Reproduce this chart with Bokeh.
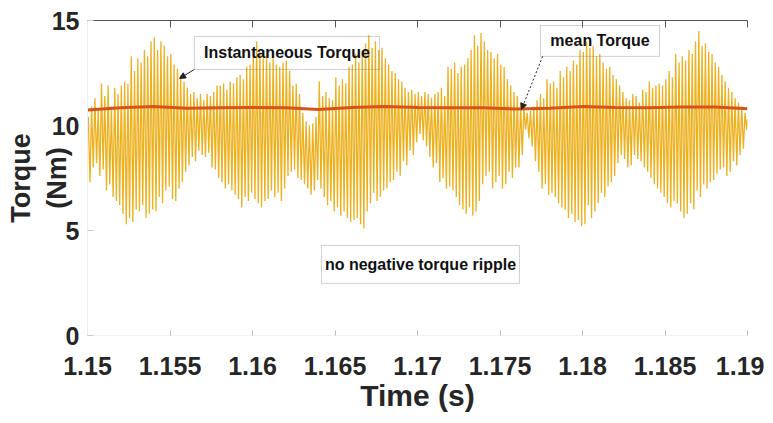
import numpy as np
from bokeh.plotting import figure
from bokeh.models import (Range1d, LinearAxis, FixedTicker, BoxAnnotation, Label,
                          Arrow, NormalHead)
from bokeh.embed import file_html
from bokeh.resources import INLINE

# ---------------- data ----------------
t_start = 1.15
t_end = 1.19
cycle_period = 0.0002          # one ripple cycle (peak + trough)
start_value = 10.2
end_value = 10.3

# instantaneous torque: per-cycle maxima (Nm)
peaks = [
    10.4, 10.9, 11.3, 10.8, 12.0, 11.4, 11.9, 10.9, 11.8, 11.5,
    11.9, 12.1, 12.0, 13.3, 12.6, 13.2, 13.0, 13.6, 13.3, 14.0,
    14.2, 13.6, 14.0, 13.8, 13.3, 13.4, 12.9, 12.7, 12.4, 12.1,
    11.8, 11.5, 11.6, 11.3, 11.5, 11.2, 11.5, 11.4, 11.6, 11.9,
    11.9, 12.0, 11.7, 12.1, 12.0, 12.3, 12.4, 12.2, 12.8, 12.9,
    13.6, 14.0, 13.5, 13.2, 13.4, 13.0, 13.2, 12.9, 12.8, 13.0,
    13.1, 12.6, 11.9, 12.0, 11.5, 10.6, 10.2, 10.0, 10.1, 10.4,
    12.1, 11.4, 11.6, 11.3, 11.2, 12.3, 11.9, 12.2, 12.0, 12.8,
    12.9, 13.4, 13.0, 13.6, 13.9, 14.3, 13.7, 14.0, 13.6, 13.7,
    13.2, 12.9, 12.6, 12.5, 12.2, 12.1, 11.8, 11.6, 11.7, 11.5,
    11.6, 11.4, 11.6, 11.5, 11.3, 11.5, 11.6, 11.8, 11.4, 12.8,
    12.7, 13.0, 12.5, 12.8, 12.9, 13.2, 13.6, 14.3, 13.8, 14.4,
    14.0, 13.6, 13.5, 13.2, 13.4, 12.9, 12.8, 12.2, 11.9, 11.6,
    11.4, 11.1, 10.9, 10.6, 10.7, 10.9, 11.2, 11.5, 11.3, 12.2,
    12.0, 12.1, 11.8, 12.6, 12.3, 12.8, 12.6, 13.1, 12.9, 13.6,
    13.5, 14.0, 13.7, 13.8, 13.3, 13.4, 13.0, 12.7, 12.8, 12.4,
    12.2, 11.9, 11.6, 11.3, 11.2, 11.5, 11.4, 11.1, 11.7, 11.6,
    12.1, 11.8, 11.9, 12.0, 11.9, 12.2, 12.6, 12.3, 13.4, 13.0,
    13.3, 13.1, 13.6, 13.4, 14.0, 14.5, 13.8, 13.9, 13.5, 13.4,
    13.0, 12.8, 12.4, 12.1, 11.8, 11.6, 11.3, 11.1, 10.9, 10.6,
]

# instantaneous torque: per-cycle minima (Nm)
troughs = [
    7.3, 8.0, 8.2, 7.6, 7.9, 6.9, 7.2, 6.6, 6.4, 6.2,
    5.8, 5.3, 5.6, 5.4, 6.0, 5.9, 6.2, 5.6, 5.8, 6.0,
    5.9, 6.6, 6.3, 6.9, 7.1, 6.5, 6.4, 7.0, 7.3, 7.8,
    8.1, 8.5, 8.3, 8.8, 8.6, 8.5, 8.7, 8.0, 7.9, 7.5,
    7.3, 7.0, 7.2, 6.9, 6.7, 6.5, 6.1, 6.6, 6.4, 6.8,
    6.5, 6.3, 6.1, 6.4, 6.5, 6.9, 6.6, 6.8, 6.4, 7.0,
    7.6, 7.8, 7.9, 7.5, 7.4, 7.2, 7.0, 6.7, 6.9, 7.4,
    7.0, 6.6, 6.2, 6.4, 5.9, 6.1, 5.7, 5.9, 5.6, 5.4,
    5.5, 5.6, 5.3, 5.1, 5.9, 6.3, 6.8, 6.4, 6.6, 6.9,
    7.0, 7.3, 7.4, 7.8, 7.6, 8.3, 8.1, 8.8, 8.6, 9.2,
    9.6, 9.3, 9.0, 8.5, 8.0, 8.2, 7.3, 7.5, 7.0, 7.1,
    6.9, 6.6, 6.2, 6.0, 5.8, 6.1, 5.7, 5.9, 6.4, 7.2,
    7.6, 7.8, 7.0, 7.3, 7.6, 7.0, 7.2, 7.8, 7.5, 8.0,
    8.0, 8.6, 9.8, 9.4, 9.0, 8.3, 7.8, 7.0, 7.2, 6.7,
    6.8, 6.6, 6.3, 6.1, 6.0, 5.6, 5.8, 5.4, 5.5, 5.2,
    5.3, 6.2, 5.6, 5.9, 6.3, 6.8, 6.6, 7.1, 7.3, 7.6,
    8.2, 8.6, 8.4, 8.0, 8.1, 8.6, 8.4, 8.3, 8.0, 7.8,
    7.5, 7.2, 7.0, 6.8, 6.6, 6.3, 6.1, 6.4, 6.3, 5.9,
    5.6, 5.8, 6.3, 6.0, 6.9, 6.6, 7.2, 7.0, 7.3, 7.4,
    7.7, 7.9, 8.0, 7.6, 7.8, 8.3, 8.1, 8.6, 8.9, 9.8,
]

# mean torque
mean_time = [1.150, 1.152, 1.154, 1.156, 1.158, 1.160, 1.162, 1.164, 1.166, 1.168,
             1.170, 1.172, 1.174, 1.176, 1.178, 1.180, 1.182, 1.184, 1.186, 1.188, 1.190]
mean_torque = [10.74, 10.84, 10.90, 10.82, 10.84, 10.86, 10.84, 10.76, 10.86, 10.90,
               10.86, 10.84, 10.84, 10.78, 10.82, 10.90, 10.86, 10.84, 10.88, 10.88, 10.80]

x_ticks = [1.15, 1.155, 1.16, 1.165, 1.17, 1.175, 1.18, 1.185, 1.19]
x_tick_labels = ["1.15", "1.155", "1.16", "1.165", "1.17", "1.175", "1.18", "1.185", "1.19"]
y_ticks = [0, 5, 10, 15]
y_tick_labels = ["0", "5", "10", "15"]

# ---------------- build the waveform ----------------
inst_t = [t_start]
inst_v = [start_value]
for i, (hi, lo) in enumerate(zip(peaks, troughs)):
    inst_t.append(t_start + (i + 0.25) * cycle_period)
    inst_v.append(hi)
    inst_t.append(t_start + (i + 0.75) * cycle_period)
    inst_v.append(lo)
inst_t.append(t_end)
inst_v.append(end_value)

# ---------------- figure ----------------
FONT = "Liberation Sans"
TXT = "#262626"

p = figure(frame_width=660, frame_height=315,
           min_border_left=87, min_border_right=17, min_border_top=20, min_border_bottom=10,
           x_range=Range1d(t_start, t_end), y_range=Range1d(0, 15),
           output_backend="svg", toolbar_location=None,
           background_fill_color="white", border_fill_color="white")
p.outline_line_color = None
p.grid.visible = False

p.line(inst_t, inst_v, line_color="#EDB120", line_width=1.3)
p.line(mean_time, mean_torque, line_color="#D95319", line_width=3)

# bottom axis
xa = p.xaxis[0]
xa.ticker = FixedTicker(ticks=x_ticks)
xa.major_label_overrides = {t: s for t, s in zip(x_ticks, x_tick_labels)}
xa.minor_tick_line_color = None
xa.major_tick_in = 5
xa.major_tick_out = 0
xa.major_tick_line_color = "#bbbbbb"
xa.axis_line_color = "#f2f2f2"
xa.major_label_standoff = 21
xa.major_label_text_font = FONT
xa.major_label_text_font_style = "bold"
xa.major_label_text_font_size = "25px"
xa.major_label_text_color = TXT
xa.axis_label = "Time (s)"
xa.axis_label_text_font = FONT
xa.axis_label_text_font_style = "bold"
xa.axis_label_text_font_size = "30px"
xa.axis_label_text_color = TXT
xa.axis_label_standoff = 1

# left axis
ya = p.yaxis[0]
ya.ticker = FixedTicker(ticks=y_ticks)
ya.major_label_overrides = {t: s for t, s in zip(y_ticks, y_tick_labels)}
ya.minor_tick_line_color = None
ya.major_tick_in = 6
ya.major_tick_out = 0
ya.major_tick_line_color = "#cccccc"
ya.axis_line_color = "#eeeeee"
ya.major_label_standoff = 8
ya.major_label_text_font = FONT
ya.major_label_text_font_style = "bold"
ya.major_label_text_font_size = "25px"
ya.major_label_text_color = TXT
ya.axis_label = "Torque\n(Nm)"
ya.axis_label_text_font = FONT
ya.axis_label_text_font_style = "bold"
ya.axis_label_text_font_size = "27px"
ya.axis_label_text_color = TXT
ya.axis_label_standoff = -23

# top box edge with inward ticks (labels not drawn)
top_axis = LinearAxis(ticker=FixedTicker(ticks=x_ticks),
                      major_label_text_color=None, major_label_text_font_size="2px",
                      major_label_standoff=0,
                      axis_line_color="#555555", major_tick_line_color="#555555",
                      major_tick_in=7, major_tick_out=0, minor_tick_line_color=None)
p.add_layout(top_axis, "above")

# annotation boxes
boxes = [
    (1.15648, 1.16770, 12.67, 14.24, "Instantaneous Torque"),
    (1.17745, 1.18467, 13.29, 14.76, "mean Torque"),
    (1.16418, 1.17618, 2.48, 4.29, "no negative torque ripple"),
]
for l, r, b, t, txt in boxes:
    p.add_layout(BoxAnnotation(left=l, right=r, bottom=b, top=t, fill_color=None,
                               fill_alpha=0, line_color="#666666", line_width=1))
    p.add_layout(Label(x=(l + r) / 2, y=(b + t) / 2, text=txt,
                       text_align="center", text_baseline="middle",
                       text_font=FONT, text_font_style="bold", text_font_size="16px",
                       text_color="#111111"))

p.add_layout(Arrow(x_start=1.15648, y_start=12.67, x_end=1.15558, y_end=12.24,
                   line_color="#222222", line_width=1,
                   end=NormalHead(size=6, fill_color="#222222", line_color="#222222")))
p.add_layout(Arrow(x_start=1.17758, y_start=13.29, x_end=1.17630, y_end=10.76,
                   line_color="#222222", line_width=1, line_dash="2 2",
                   end=NormalHead(size=6, fill_color="#222222", line_color="#222222")))

open("out.html", "w").write(file_html(p, INLINE))
